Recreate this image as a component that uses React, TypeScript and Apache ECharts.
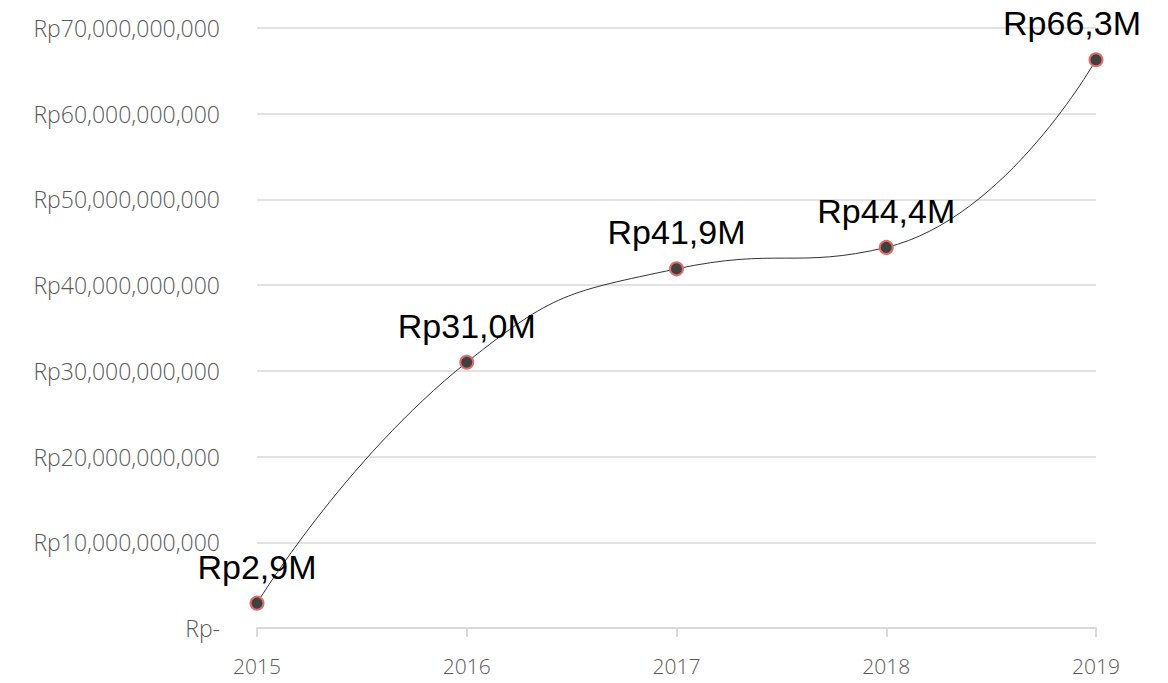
import React, { useEffect, useRef } from "react";
import * as echarts from "echarts";

const years = ["2015", "2016", "2017", "2018", "2019"];
const values = [2.9e9, 31.0e9, 41.9e9, 44.4e9, 66.3e9];
const dataLabels = ["Rp2,9M", "Rp31,0M", "Rp41,9M", "Rp44,4M", "Rp66,3M"];

export default function App() {
  const ref = useRef<HTMLDivElement>(null);
  useEffect(() => {
    if (!ref.current) return;
    const chart = echarts.init(ref.current, null, { renderer: "svg" });
    const axisFont = {
      fontFamily: "'Open Sans', sans-serif",
      fontWeight: 300,
      color: "#595959",
    };
    chart.setOption({
      animation: false,
      grid: { left: 257, right: 72, top: 28, bottom: 55 },
      xAxis: {
        type: "category",
        data: years,
        boundaryGap: false,
        axisLine: { lineStyle: { color: "#d9d9d9", width: 2 } },
        axisTick: { show: true, length: 9, lineStyle: { color: "#d9d9d9", width: 2 } },
        axisLabel: { ...axisFont, fontSize: 21, margin: 27 },
        splitLine: { show: false },
      },
      yAxis: {
        type: "value",
        min: 0,
        max: 70e9,
        interval: 10e9,
        axisLine: { show: false },
        axisTick: { show: false },
        axisLabel: {
          ...axisFont,
          fontSize: 23,
          margin: 37,
          formatter: (v: number) =>
            v === 0 ? "Rp-" : "Rp" + v.toLocaleString("en-US"),
        },
        splitLine: { lineStyle: { color: "#d9d9d9", width: 1.5 } },
      },
      series: [
        {
          type: "line",
          smooth: 0.5,
          data: values.map((v, i) => ({
            value: v,
            label: i === values.length - 1 ? { offset: [-24, 0] } : undefined,
          })),
          symbol: "circle",
          symbolSize: 13,
          itemStyle: { color: "#404040", borderColor: "#e06c6c", borderWidth: 2 },
          lineStyle: { color: "#333333", width: 1 },
          label: {
            show: true,
            position: "top",
            distance: 12,
            fontFamily: "'Liberation Sans', Arial, sans-serif",
            fontSize: 34,
            color: "#000000",
            formatter: (p: any) => dataLabels[p.dataIndex],
          },
        },
      ],
    });
    return () => chart.dispose();
  }, []);
  return <div ref={ref} style={{ width: 1168, height: 683, position: "absolute", left: 0, top: 0 }} />;
}
